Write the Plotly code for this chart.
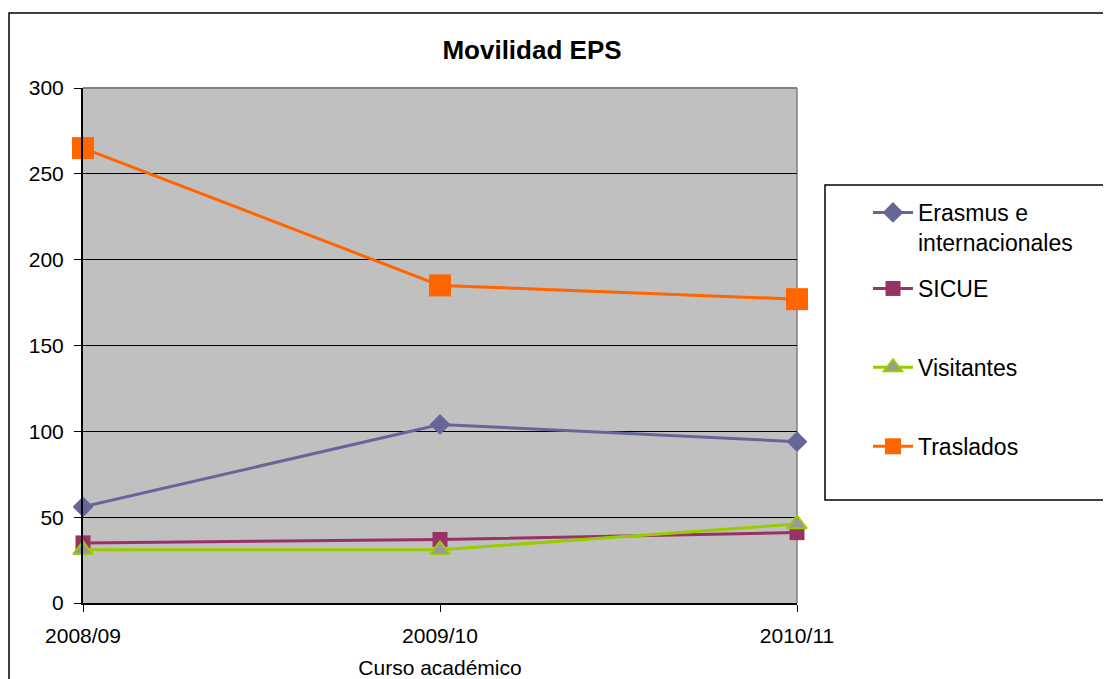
import plotly.graph_objects as go

cursos = ["2008/09", "2009/10", "2010/11"]
erasmus = [56, 104, 94]
sicue = [35, 37, 41]
visitantes = [31, 31, 46]
traslados = [265, 185, 177]

FONT = "Liberation Sans, Arial, sans-serif"

fig = go.Figure()

fig.add_trace(go.Scatter(
    x=cursos, y=erasmus, name="Erasmus e<br>internacionales",
    mode="lines+markers", line=dict(color="#666699", width=3),
    marker=dict(symbol="diamond", size=16, color="#666699"),
    legend="legend", cliponaxis=False,
))
fig.add_trace(go.Scatter(
    x=cursos, y=sicue, name="SICUE",
    mode="lines+markers", line=dict(color="#993366", width=3),
    marker=dict(symbol="square", size=15, color="#993366"),
    legend="legend2", legendgroup="s", cliponaxis=False,
))
fig.add_trace(go.Scatter(
    x=cursos, y=visitantes, name="Visitantes",
    mode="lines+markers", line=dict(color="#99CC00", width=3),
    marker=dict(symbol="triangle-up", size=17, color="#999999",
                line=dict(color="#99CC00", width=2)),
    legend="legend2", legendgroup="v", cliponaxis=False,
))
fig.add_trace(go.Scatter(
    x=cursos, y=traslados, name="Traslados",
    mode="lines+markers", line=dict(color="#FF6600", width=3),
    marker=dict(symbol="square", size=22, color="#FF6600"),
    legend="legend2", legendgroup="t", cliponaxis=False,
))

# the page body adds an 8px offset, so work in page pixels and shift
OFF = 8
W, H = 1111 - OFF, 679 - OFF
L, R, T, B = 83 - OFF, 797 - OFF, 88 - OFF, 603 - OFF


def px_x(p):
    return (p - OFF - L) / (R - L)


def px_y(p):
    return (B - (p - OFF)) / (B - T)


fig.update_layout(
    width=W, height=H,
    margin=dict(l=L, r=W - R, t=T, b=H - B, autoexpand=False),
    paper_bgcolor="white",
    plot_bgcolor="#C0C0C0",
    font=dict(family=FONT, size=21, color="black"),
    title=dict(text="<b>Movilidad EPS</b>", x=px_x(532), xref="paper",
               xanchor="center", y=1 - (50 - OFF) / H, yanchor="middle",
               font=dict(size=26, family=FONT)),
    showlegend=True,
    legend=dict(x=px_x(868), y=px_y(191), xanchor="left", yanchor="top",
                bgcolor="rgba(0,0,0,0)", font=dict(size=23, family=FONT),
                valign="top", itemwidth=40),
    legend2=dict(x=px_x(868), y=px_y(267), xanchor="left", yanchor="top",
                 bgcolor="rgba(0,0,0,0)", font=dict(size=23, family=FONT),
                 tracegroupgap=46, itemwidth=40),
    xaxis=dict(
        type="category", range=[0, 2], showgrid=False, automargin=False,
        showline=True, linecolor="black", linewidth=2,
        ticks="outside", ticklen=7, tickcolor="black", tickwidth=1,
        ticklabelstandoff=6, tickfont=dict(size=21),
        title=dict(text="Curso académico", font=dict(size=21), standoff=15),
        zeroline=False,
    ),
    yaxis=dict(
        range=[0, 300], dtick=50, showgrid=True, gridcolor="black",
        gridwidth=1, showline=True, linecolor="black", linewidth=2,
        automargin=False,
        ticks="outside", ticklen=7, tickcolor="black",
        ticklabelstandoff=6, tickfont=dict(size=21), zeroline=False,
    ),
    shapes=[
        # plot-area top and right borders (gray)
        dict(type="line", xref="paper", yref="paper", x0=0, x1=1, y0=1, y1=1,
             line=dict(color="#808080", width=2), layer="below"),
        dict(type="line", xref="paper", yref="paper", x0=1, x1=1, y0=0, y1=1,
             line=dict(color="#808080", width=1.5), layer="below"),
        # outer chart border
        dict(type="rect", xref="paper", yref="paper",
             x0=px_x(9), x1=px_x(1130), y0=px_y(700), y1=px_y(13),
             line=dict(color="black", width=1.5), fillcolor="rgba(0,0,0,0)"),
        # legend box
        dict(type="rect", xref="paper", yref="paper",
             x0=px_x(825), x1=px_x(1130), y0=px_y(500), y1=px_y(185),
             line=dict(color="black", width=1.5), fillcolor="white",
             layer="below"),
    ],
)

fig.write_html("out.html")
